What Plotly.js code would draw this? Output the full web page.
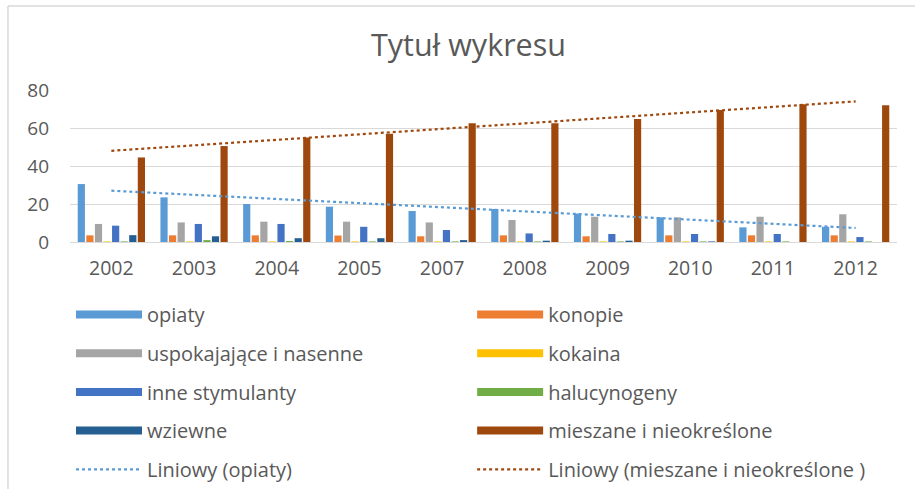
<!DOCTYPE html>
<html>
<head>
<meta charset="utf-8">
<script src="https://cdn.plot.ly/plotly-3.0.1.min.js"></script>
<style>html,body{margin:0;padding:0;background:#fff;}#chart{width:915px;height:489px;}</style>
</head>
<body>
<div id="chart"></div>
<script>
// Categories (years)
const years = ['2002','2003','2004','2005','2007','2008','2009','2010','2011','2012'];

// Series values
const opiaty       = [30.5, 23.5, 20.0, 18.6, 16.3, 17.4, 15.0, 13.0, 7.7, 8.0];
const konopie      = [3.5, 3.5, 3.5, 3.4, 3.0, 3.5, 3.0, 3.5, 3.5, 3.5];
const uspokajajace = [9.5, 10.3, 10.7, 10.7, 10.3, 11.6, 13.3, 13.0, 13.3, 14.6];
const kokaina      = [0.3, 0.3, 0.3, 0.3, 0.3, 0.3, 0.3, 0.3, 0.3, 0.3];
const inneStym     = [8.6, 9.5, 9.5, 8.0, 6.3, 4.5, 4.2, 4.2, 4.2, 2.6];
const halucynogeny = [0.3, 1.0, 0.5, 0.3, 0.3, 0.3, 0.3, 0.3, 0.3, 0.3];
const wziewne      = [3.6, 3.0, 2.0, 2.0, 1.0, 0.7, 0.7, 0.3, 0.0, 0.0];
const mieszane     = [44.5, 50.5, 55.0, 57.0, 62.5, 62.5, 64.7, 69.5, 72.5, 72.0];

// Linear trend lines (endpoints)
const trendYears    = ['2002', '2012'];
const trendOpiaty   = [27.0, 7.4];
const trendMieszane = [48.0, 74.0];

const seriesNames = ['opiaty','konopie','uspokajające i nasenne','kokaina','inne stymulanty','halucynogeny','wziewne','mieszane i nieokreślone'];
const seriesData  = [opiaty, konopie, uspokajajace, kokaina, inneStym, halucynogeny, wziewne, mieszane];
const seriesColors = ['#5B9BD5','#ED7D31','#A5A5A5','#FFC000','#4472C4','#70AD47','#255E91','#9E480E'];
const legendOf = ['legend','legend2','legend','legend2','legend','legend2','legend','legend2'];

const traces = [];
seriesNames.forEach((n, i) => {
  traces.push({
    type: 'bar', x: years, y: seriesData[i], name: n,
    marker: {color: seriesColors[i]}, showlegend: false, hoverinfo: 'x+y+name'
  });
});
// legend swatches (wide bars like Excel)
seriesNames.forEach((n, i) => {
  traces.push({
    type: 'scatter', mode: 'lines', x: [null], y: [null], name: n,
    line: {color: seriesColors[i], width: 8},
    legend: legendOf[i], legendgroup: 'g' + i, showlegend: true, hoverinfo: 'skip'
  });
});
traces.push({
  type: 'scatter', mode: 'lines', x: trendYears, y: trendOpiaty,
  name: 'Liniowy (opiaty)', line: {color: '#5B9BD5', width: 2.2, dash: 'dot'},
  legend: 'legend', legendgroup: 't1'
});
traces.push({
  type: 'scatter', mode: 'lines', x: trendYears, y: trendMieszane,
  name: 'Liniowy (mieszane i nieokreślone )', line: {color: '#9E480E', width: 2.2, dash: 'dot'},
  legend: 'legend2', legendgroup: 't2'
});

const FONT = 'Open Sans, Noto Sans, sans-serif';
const legendCommon = {
  orientation: 'v', yanchor: 'top', xanchor: 'left', xref: 'container', yref: 'container',
  font: {family: FONT, size: 20, color: '#595959'},
  itemwidth: 66, tracegroupgap: 9.7, bgcolor: 'rgba(0,0,0,0)', traceorder: 'grouped'
};

const layout = {
  width: 915, height: 489,
  margin: {l: 70, r: 18, t: 90, b: 247, autoexpand: false},
  paper_bgcolor: '#ffffff', plot_bgcolor: '#ffffff',
  font: {family: FONT, color: '#595959'},
  title: {text: 'Tytuł wykresu', x: 0.512, xref: 'container', xanchor: 'center',
          y: 0.908, yref: 'container', yanchor: 'middle',
          font: {family: FONT, size: 30.5, color: '#595959'}},
  barmode: 'group', bargap: 0.17, bargroupgap: 0.16,
  xaxis: {type: 'category', categoryorder: 'array', categoryarray: years,
          showgrid: false, showline: true, linecolor: '#d9d9d9', linewidth: 1,
          ticks: '', tickfont: {family: FONT, size: 19.5, color: '#595959'},
          tickangle: 0, automargin: false,
          ticklabelstandoff: 9, fixedrange: true},
  yaxis: {range: [0, 80], tickvals: [0, 20, 40, 60, 80], showgrid: true, gridcolor: '#d9d9d9',
          gridwidth: 1, zeroline: false, showline: false, ticks: '', automargin: false,
          tickfont: {family: FONT, size: 19, color: '#595959'}, ticklabelstandoff: 20, fixedrange: true},
  legend: Object.assign({}, legendCommon, {x: 0.0776, y: 0.3967}),
  legend2: Object.assign({}, legendCommon, {x: 0.516, y: 0.3967}),
  shapes: [
    {type: 'line', xref: 'paper', yref: 'paper', x0: -0.075, x1: 1.03, y0: 1.5526, y1: 1.5526,
     line: {color: '#d9d9d9', width: 1.5}},
    {type: 'line', xref: 'paper', yref: 'paper', x0: -0.075, x1: -0.075, y0: 1.5526, y1: -1.7,
     line: {color: '#d9d9d9', width: 1.5}}
  ],
  showlegend: true
};

Plotly.newPlot('chart', traces, layout, {displayModeBar: false, staticPlot: true});
</script>
</body>
</html>
